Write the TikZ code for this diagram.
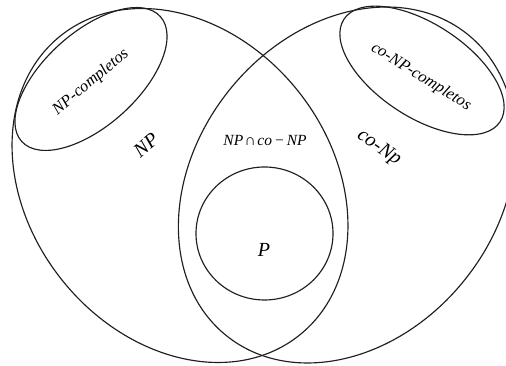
\documentclass[tikz,border=0pt]{standalone}
\usepackage{fontspec}
\setmainfont{Liberation Serif}
\begin{document}
\begin{tikzpicture}[x=1pt,y=1pt,
  setline/.style={line width=1.15pt,draw=black!88},
  biglabel/.style={font=\fontsize{20}{22}\selectfont\itshape,inner sep=0pt},
  midlabel/.style={font=\fontsize{16.5}{18}\selectfont\itshape,inner sep=0pt},
  smalllabel/.style={font=\fontsize{15.5}{17}\selectfont,inner sep=0pt}]
\clip (0,0) rectangle (506,366);
\useasboundingbox (0,0) rectangle (506,366);
% big sets
\draw[setline,shift={(180,180.5)},rotate=-51.5] (0,0) ellipse [x radius=191.5, y radius=151.2];
\draw[setline,shift={(347,181)},rotate=51.5] (0,0) ellipse [x radius=193, y radius=151.2];
% P
\draw[setline] (264.5,132.5) ellipse [x radius=68.5, y radius=66.5];
% complete sets
\draw[setline,shift={(91,287)},rotate=42] (0,0) ellipse [x radius=93.3, y radius=46.7];
\draw[setline,shift={(422,295.5)},rotate=-33.3] (0,0) ellipse [x radius=93.4, y radius=46.5];
% labels
\node[midlabel,rotate=40] (npc) at (91,284) {NP-completos};
\node[midlabel,rotate=-32] (conpc) at (421,289) {co-NP-completos};
\node[biglabel,rotate=40] (np) at (146,221) {NP};
\node[biglabel,rotate=-35] (conp) at (379,218) {co-Np};
\node[smalllabel] (inter) at (265,225) {\textit{NP}\kern1.5pt∩\kern1.5pt\textit{co}\kern3pt−\kern3pt\textit{NP}};
\node[biglabel] (p) at (264,116) {P};
\end{tikzpicture}
\end{document}
